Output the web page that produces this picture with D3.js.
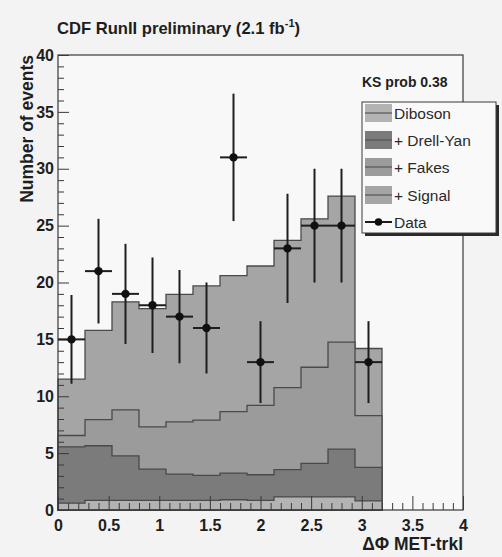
<!DOCTYPE html>
<html>
<head>
<meta charset="utf-8">
<script src="https://cdn.jsdelivr.net/npm/d3@7"></script>
<style>
  html, body { margin: 0; padding: 0; background: #f3f3f3; }
  svg { display: block; }
  text { font-family: "Liberation Sans", Arial, Helvetica, sans-serif; }
</style>
</head>
<body>
<svg id="chart" width="502" height="557"></svg>
<script>
// Bin edges of the ΔΦ(MET, track) histogram
const binEdges = [0, 0.2667, 0.5333, 0.8, 1.0667, 1.3333, 1.6, 1.8667, 2.1333, 2.4, 2.6667, 2.9333, 3.2];

// Expected contributions per bin, stacked in this order
const diboson   = [0.6, 0.85, 0.85, 0.85, 0.85, 0.85, 0.9, 0.85, 1.15, 1.15, 1.15, 0.8];
const drellYan  = [4.95, 4.8, 3.9, 2.75, 2.3, 2.2, 2.35, 2.25, 2.4, 2.95, 4.2, 2.95];
const fakes     = [1.0, 2.3, 4.05, 3.7, 4.6, 4.85, 5.4, 6.1, 7.2, 8.45, 9.4, 4.55];
const signal    = [4.95, 7.85, 9.5, 10.4, 11.2, 11.8, 11.95, 12.25, 12.95, 13.05, 12.85, 5.9];

// Observed events and their statistical uncertainties
const dataCounts = [15, 21, 19, 18, 17, 16, 31, 13, 23, 25, 25, 13];
const dataErrors = [3.9, 4.6, 4.4, 4.2, 4.1, 4.0, 5.6, 3.6, 4.8, 5.0, 5.0, 3.6];

const processNames = ["Diboson", "+ Drell-Yan", "+ Fakes", "+ Signal"];
const processKeys  = ["diboson", "drellYan", "fakes", "signal"];
const fillColors   = { diboson: "#b3b3b3", drellYan: "#7b7b7b", fakes: "#9b9b9b", signal: "#a5a5a5" };

const xTicks = [0, 0.5, 1, 1.5, 2, 2.5, 3, 3.5, 4];
const yTicks = [0, 5, 10, 15, 20, 25, 30, 35, 40];

const svg = d3.select("#chart");
const frame = { left: 58, top: 55, right: 463, bottom: 510 };

const x = d3.scaleLinear().domain([0, 4]).range([frame.left, frame.right]);
const y = d3.scaleLinear().domain([0, 40]).range([frame.bottom, frame.top]);

// Plot area
svg.append("rect")
  .attr("x", frame.left).attr("y", frame.top)
  .attr("width", frame.right - frame.left).attr("height", frame.bottom - frame.top)
  .attr("fill", "#f8f8f8");

// Stack the contributions
const rows = binEdges.slice(0, -1).map((lo, i) => ({
  lo, hi: binEdges[i + 1],
  diboson: diboson[i], drellYan: drellYan[i], fakes: fakes[i], signal: signal[i]
}));
const stacked = d3.stack().keys(processKeys)(rows);

// Step outline of a cumulative histogram, closed down to zero at both ends
function stepPoints(layer) {
  const pts = [[rows[0].lo, 0]];
  layer.forEach((d, i) => {
    pts.push([rows[i].lo, d[1]]);
    pts.push([rows[i].hi, d[1]]);
  });
  pts.push([rows[rows.length - 1].hi, 0]);
  return pts;
}
const stepLine = d3.line().x(p => x(p[0])).y(p => y(p[1]));

// Draw the full stack first, then each lower cumulative layer on top of it
const hist = svg.append("g");
stacked.slice().reverse().forEach(layer => {
  const pts = stepPoints(layer);
  hist.append("path")
    .attr("d", stepLine(pts) + "Z")
    .attr("fill", fillColors[layer.key])
    .attr("stroke", "#4a4a4a")
    .attr("stroke-width", 1.3);
});

// Axes with ROOT-style inward ticks
const axes = svg.append("g");
const yMajor = axes.append("g")
  .attr("transform", `translate(${frame.left},0)`)
  .call(d3.axisLeft(y).tickValues(yTicks).tickSize(-11).tickPadding(4).tickFormat(d3.format("d")));
const yMinor = axes.append("g")
  .attr("transform", `translate(${frame.left},0)`)
  .call(d3.axisLeft(y).tickValues(d3.range(0, 41, 1).filter(v => v % 5 !== 0)).tickSize(-6).tickFormat(""));
const xMajor = axes.append("g")
  .attr("transform", `translate(0,${frame.bottom})`)
  .call(d3.axisBottom(x).tickValues(xTicks).tickSize(-14).tickPadding(10).tickFormat(d3.format("")));
const xMinor = axes.append("g")
  .attr("transform", `translate(0,${frame.bottom})`)
  .call(d3.axisBottom(x).tickValues(d3.range(1, 40).filter(v => v % 5 !== 0).map(v => v / 10)).tickSize(-7).tickFormat(""));

[yMajor, yMinor, xMajor, xMinor].forEach(g => {
  g.select(".domain").remove();
  g.selectAll(".tick line").attr("stroke", "#3a3a3a").attr("stroke-width", 1);
  g.selectAll("text")
    .attr("fill", "#1e1e1e")
    .style("font-size", "16px")
    .style("font-weight", "bold");
});
xMajor.selectAll("text").attr("dy", "0.71em");

// Frame border
svg.append("rect")
  .attr("x", frame.left).attr("y", frame.top)
  .attr("width", frame.right - frame.left).attr("height", frame.bottom - frame.top)
  .attr("fill", "none").attr("stroke", "#3a3a3a").attr("stroke-width", 1.2);

// Data points with error bars
const dataG = svg.append("g");
rows.forEach((r, i) => {
  const cx = x((r.lo + r.hi) / 2);
  const cy = y(dataCounts[i]);
  dataG.append("line")
    .attr("x1", cx).attr("x2", cx)
    .attr("y1", y(dataCounts[i] - dataErrors[i])).attr("y2", y(dataCounts[i] + dataErrors[i]))
    .attr("stroke", "#1e1e1e").attr("stroke-width", 2);
  dataG.append("line")
    .attr("x1", x(r.lo)).attr("x2", x(r.hi))
    .attr("y1", cy).attr("y2", cy)
    .attr("stroke", "#1e1e1e").attr("stroke-width", 2);
  dataG.append("circle")
    .attr("cx", cx).attr("cy", cy).attr("r", 4.2)
    .attr("fill", "#111");
});

// Titles
const title = svg.append("text")
  .attr("x", 57).attr("y", 34)
  .attr("fill", "#1e1e1e")
  .style("font-size", "16.6px").style("font-weight", "bold");
title.append("tspan").text("CDF RunII preliminary (2.1 fb");
title.append("tspan").attr("dy", -7).style("font-size", "11px").text("-1");
title.append("tspan").attr("dy", 7).text(")");

svg.append("text")
  .attr("transform", `translate(33,${frame.top}) rotate(-90)`)
  .attr("text-anchor", "end")
  .attr("fill", "#1e1e1e")
  .style("font-size", "17.5px").style("font-weight", "bold")
  .text("Number of events");

svg.append("text")
  .attr("x", frame.right).attr("y", 550)
  .attr("text-anchor", "end")
  .attr("fill", "#1e1e1e")
  .style("font-size", "17.5px").style("font-weight", "bold")
  .text("ΔΦ MET-trkl");

svg.append("text")
  .attr("x", 362).attr("y", 87)
  .attr("fill", "#1e1e1e")
  .style("font-size", "14px").style("font-weight", "bold")
  .text("KS prob 0.38");

// Legend
const leg = { x: 362, y: 102, w: 134, h: 131 };
svg.append("rect")
  .attr("x", leg.x + 3).attr("y", leg.y + 3).attr("width", leg.w).attr("height", leg.h)
  .attr("fill", "#2a2a2a");
svg.append("rect")
  .attr("x", leg.x).attr("y", leg.y).attr("width", leg.w).attr("height", leg.h)
  .attr("fill", "#f9f9f9").attr("stroke", "#3a3a3a").attr("stroke-width", 1);

const entryY = [113, 140, 167, 195, 222];
processKeys.forEach((k, i) => {
  const cy = entryY[i];
  svg.append("rect")
    .attr("x", 365).attr("y", cy - 9).attr("width", 27).attr("height", 18)
    .attr("fill", fillColors[k]);
  svg.append("line")
    .attr("x1", 365).attr("x2", 392).attr("y1", cy).attr("y2", cy)
    .attr("stroke", "#555").attr("stroke-width", 1.2);
  svg.append("text")
    .attr("x", 394).attr("y", cy).attr("dy", "0.36em")
    .attr("fill", "#2a2a2a")
    .style("font-size", "15.5px")
    .text(processNames[i]);
});
svg.append("line")
  .attr("x1", 365).attr("x2", 392).attr("y1", entryY[4]).attr("y2", entryY[4])
  .attr("stroke", "#1e1e1e").attr("stroke-width", 2);
svg.append("circle")
  .attr("cx", 378.5).attr("cy", entryY[4]).attr("r", 3.8).attr("fill", "#111");
svg.append("text")
  .attr("x", 394).attr("y", entryY[4]).attr("dy", "0.36em")
  .attr("fill", "#2a2a2a")
  .style("font-size", "15.5px")
  .text("Data");
</script>
</body>
</html>
